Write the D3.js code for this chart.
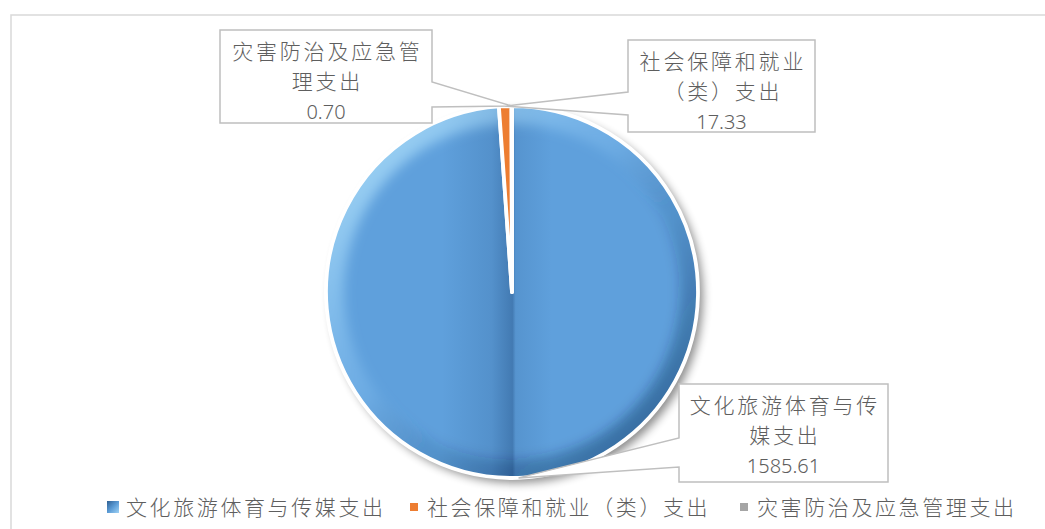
<!DOCTYPE html>
<html>
<head>
<meta charset="utf-8">
<script src="https://cdn.jsdelivr.net/npm/d3@7"></script>
<style>
  body { margin: 0; background: #fff; }
  text { font-family: "Noto Sans CJK SC", "Noto Sans", sans-serif; fill: #5e5e5e; font-weight: 300; }
</style>
</head>
<body>
<div class="canva"></div>
<script>
// data
const categories = ['文化旅游体育与传媒支出', '社会保障和就业（类）支出', '灾害防治及应急管理支出']
const values = [1585.61, 17.33, 0.70]
const valueLabels = ['1585.61', '17.33', '0.70']
const labelLines = [['文化旅游体育与传', '媒支出'], ['社会保障和就业', '（类）支出'], ['灾害防治及应急管', '理支出']]
const colors = ['#5fa0dc', '#ED7D31', '#A5A5A5']

// layout of the callout boxes (x0,y0,x1,y1, pointer side and its base)
const boxes = [
  {x0: 679, y0: 384, x1: 888, y1: 482, side: 'left', p0: 438, p1: 467},
  {x0: 628, y0: 40, x1: 815, y1: 132, side: 'left', p0: 92, p1: 115},
  {x0: 220, y0: 30, x1: 432, y1: 123, side: 'right', p0: 82, p1: 107}
]
const legendX = [107, 409, 739]

const W = 1045, H = 529
const cx = 512, cy = 292, r = 186

const svg = d3.select('.canva').append('svg')
    .attr('width', W)
    .attr('height', H)

const defs = svg.append('defs')

// rim gradient (light top-left, dark bottom-right)
const rim = defs.append('linearGradient').attr('id', 'rim')
    .attr('x1', '0').attr('y1', '0').attr('x2', '1').attr('y2', '1')
rim.append('stop').attr('offset', '0').attr('stop-color', '#c8f4ff').attr('stop-opacity', 0.85)
rim.append('stop').attr('offset', '0.45').attr('stop-color', '#9fd6ff').attr('stop-opacity', 0.2)
rim.append('stop').attr('offset', '0.6').attr('stop-color', '#0a2850').attr('stop-opacity', 0.12)
rim.append('stop').attr('offset', '1').attr('stop-color', '#0a2850').attr('stop-opacity', 0.6)

// dark band along the slice edge
const band = defs.append('linearGradient').attr('id', 'band')
band.append('stop').attr('offset', '0').attr('stop-color', '#143c6e').attr('stop-opacity', 0)
band.append('stop').attr('offset', '0.45').attr('stop-color', '#143c6e').attr('stop-opacity', 0.15)
band.append('stop').attr('offset', '0.64').attr('stop-color', '#143c6e').attr('stop-opacity', 0.38)
band.append('stop').attr('offset', '0.67').attr('stop-color', '#143c6e').attr('stop-opacity', 0.12)
band.append('stop').attr('offset', '1').attr('stop-color', '#143c6e').attr('stop-opacity', 0)

const lg = defs.append('linearGradient').attr('id', 'legblue')
    .attr('x1', '0').attr('y1', '0').attr('x2', '1').attr('y2', '1')
lg.append('stop').attr('offset', '0').attr('stop-color', '#2f5f92')
lg.append('stop').attr('offset', '0.5').attr('stop-color', '#5b9bd5')
lg.append('stop').attr('offset', '1').attr('stop-color', '#9fd2f5')

defs.append('filter').attr('id', 'blur6')
    .attr('x', '-20%').attr('y', '-20%').attr('width', '140%').attr('height', '140%')
  .append('feGaussianBlur').attr('stdDeviation', 6)
defs.append('filter').attr('id', 'shadow')
    .attr('x', '-20%').attr('y', '-20%').attr('width', '140%').attr('height', '140%')
  .append('feGaussianBlur').attr('stdDeviation', 5)

// chart frame
svg.append('rect')
    .attr('x', 11).attr('y', 15)
    .attr('width', W).attr('height', H)
    .attr('fill', 'none')
    .attr('stroke', '#d9d9d9')
    .attr('stroke-width', 1.5)

const pie = d3.pie().sort(null).value(d => d)
const arcs = pie(values)
const arc = d3.arc().innerRadius(0).outerRadius(r)
const edge = d3.arc().innerRadius(r).outerRadius(r)

const g = svg.append('g').attr('transform', `translate(${cx},${cy})`)

// shadow
g.append('circle')
    .attr('cx', 5).attr('cy', 5).attr('r', r)
    .attr('fill', '#000').attr('opacity', 0.45)
    .attr('filter', 'url(#shadow)')

defs.append('clipPath').attr('id', 'bigclip')
  .append('path').attr('d', arc(arcs[0]))

// big slice fill and its bevel
g.append('path').attr('d', arc(arcs[0])).attr('fill', colors[0])
const shade = g.append('g').attr('clip-path', 'url(#bigclip)')
shade.append('rect')
    .attr('x', -70).attr('y', -r).attr('width', 110).attr('height', 2 * r)
    .attr('fill', 'url(#band)')
shade.append('path')
    .attr('d', d3.arc().innerRadius(r - 18).outerRadius(r + 10).startAngle(0).endAngle(2 * Math.PI)())
    .attr('fill', 'url(#rim)')
    .attr('filter', 'url(#blur6)')

// small slices and white borders
g.selectAll('path.slice')
    .data(arcs)
    .enter().append('path')
    .attr('class', 'slice')
    .attr('d', arc)
    .attr('fill', (d, i) => i === 0 ? 'none' : colors[i])
    .attr('stroke', '#fff')
    .attr('stroke-width', 3.8)
    .attr('stroke-linejoin', 'round')

// callout labels
const labels = svg.selectAll('g.lab')
    .data(arcs)
    .enter().append('g')
    .attr('class', 'lab')

labels.append('path')
    .attr('d', (d, i) => {
      const b = boxes[i]
      const c = edge.centroid(d)
      const tx = c[0] + cx, ty = c[1] + cy
      if (b.side === 'left') {
        return `M${b.x0},${b.y0}H${b.x1}V${b.y1}H${b.x0}V${b.p1}L${tx},${ty}L${b.x0},${b.p0}Z`
      }
      return `M${b.x0},${b.y0}H${b.x1}V${b.p0}L${tx},${ty}L${b.x1},${b.p1}V${b.y1}H${b.x0}Z`
    })
    .attr('fill', '#fff')
    .attr('stroke', '#bfbfbf')
    .attr('stroke-width', 1.5)
    .attr('stroke-linejoin', 'miter')

labels.each(function (d, i) {
  const b = boxes[i]
  const mx = (b.x0 + b.x1) / 2
  const sel = d3.select(this)
  labelLines[i].forEach((t, k) => {
    sel.append('text')
        .text(t)
        .attr('x', mx + 1.4)
        .attr('y', b.y0 + 29 + k * 30)
        .attr('text-anchor', 'middle')
        .attr('font-size', '21px')
        .attr('letter-spacing', '2.8px')
  })
  sel.append('text')
      .text(valueLabels[i])
      .attr('x', mx)
      .attr('y', b.y0 + 29 + labelLines[i].length * 30)
      .attr('text-anchor', 'middle')
      .attr('font-size', '20px')
      .style('font-family', '"Noto Sans", sans-serif')
})

// legend
const leg = svg.selectAll('g.leg')
    .data(categories)
    .enter().append('g')
    .attr('class', 'leg')
    .attr('transform', (d, i) => `translate(${legendX[i]},507)`)

leg.append('rect')
    .attr('x', (d, i) => i === 0 ? 0 : 1)
    .attr('y', (d, i) => i === 0 ? -6 : -4)
    .attr('width', (d, i) => i === 0 ? 12 : 8)
    .attr('height', (d, i) => i === 0 ? 12 : 8)
    .attr('fill', (d, i) => i === 0 ? 'url(#legblue)' : colors[i])

leg.append('text')
    .text(d => d)
    .attr('x', (d, i) => i === 0 ? 19 : 18)
    .attr('y', 8)
    .attr('font-size', '21px')
    .attr('letter-spacing', '2.6px')
</script>
</body>
</html>
